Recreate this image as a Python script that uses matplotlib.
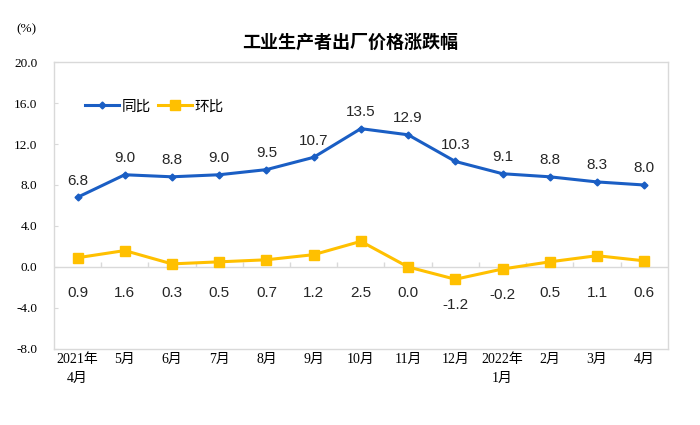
import numpy as np
import matplotlib
matplotlib.use("Agg")
import matplotlib.pyplot as plt

plt.rcParams["font.family"] = ["Liberation Sans", "Noto Sans CJK SC", "DejaVu Sans"]

months = ["2021年\n4月", "5月", "6月", "7月", "8月", "9月", "10月", "11月", "12月",
          "2022年\n1月", "2月", "3月", "4月"]
yoy = [6.8, 9.0, 8.8, 9.0, 9.5, 10.7, 13.5, 12.9, 10.3, 9.1, 8.8, 8.3, 8.0]
mom = [0.9, 1.6, 0.3, 0.5, 0.7, 1.2, 2.5, 0.0, -1.2, -0.2, 0.5, 1.1, 0.6]
yticks = [-8.0, -4.0, 0.0, 4.0, 8.0, 12.0, 16.0, 20.0]

BLUE = "#1A5EC4"
YELLOW = "#FFC000"
GRID = "#D9D9D9"

fig = plt.figure(figsize=(7, 4.25), dpi=100)
ax = fig.add_axes([0.077, 0.179, 0.877, 0.675])
x = np.arange(len(months))

ax.plot(x, yoy, color=BLUE, lw=2.2, marker="D", ms=3.5, label="同比")
ax.plot(x, mom, color=YELLOW, lw=2.2, marker="s", ms=7, label="环比")

for xi, v in zip(x, yoy):
    ax.annotate(f"{v:.1f}", (xi, v), xytext=(0, 7), textcoords="offset points",
                ha="center", va="bottom", fontsize=11, color="#262626")
for xi, v in zip(x, mom):
    ax.text(xi, min(v, 0) - 2.5, f"{v:.1f}", ha="center", va="center",
            fontsize=11, color="#262626")

ax.set_xlim(-0.5, len(months) - 0.5)
ax.set_ylim(-8, 20)
ax.set_yticks(yticks)
ax.set_yticklabels([f"{t:.1f}" for t in yticks], family=["Liberation Serif"], fontsize=9.5)
ax.tick_params(axis="y", direction="in", length=3, color=GRID, pad=12)

# category axis sits on the zero line, ticks between categories
ax.axhline(0, color=GRID, lw=1, zorder=0)
ax.vlines(x[:-1] + 0.5, 0, 0.5, color=GRID, lw=1, zorder=0)
ax.set_xticks(x)
ax.set_xticklabels(months, family=["Liberation Serif", "Noto Sans CJK SC"], fontsize=10,
                   linespacing=1.6)
ax.tick_params(axis="x", length=0, pad=3)

for s in ax.spines.values():
    s.set_color(GRID)
    s.set_linewidth(1)

ax.legend(loc="upper left", bbox_to_anchor=(0.03, 0.915), ncol=2, frameon=False,
          fontsize=10.5, handlelength=2.3, handletextpad=0.2, columnspacing=0.5)

fig.text(0.5, 0.9, "工业生产者出厂价格涨跌幅", ha="center", va="center",
         fontsize=13, fontweight="bold", family=["Noto Sans CJK SC"])
fig.text(0.038, 0.93, "(%)", ha="center", va="center", fontsize=9.5,
         family=["Liberation Serif"])

fig.savefig("out.png", dpi=100)
